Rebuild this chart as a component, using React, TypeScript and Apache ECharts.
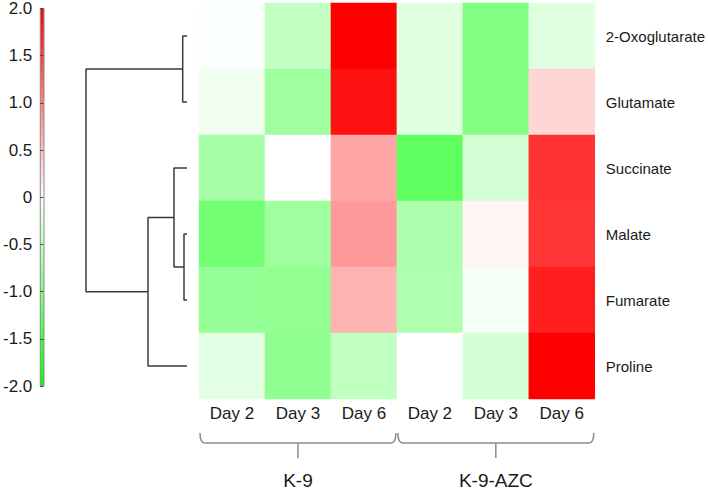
import React, { useEffect, useRef } from "react";
import * as echarts from "echarts";

// ---- data ----
const rows = ["2-Oxoglutarate", "Glutamate", "Succinate", "Malate", "Fumarate", "Proline"];
const columnDays = ["Day 2", "Day 3", "Day 6", "Day 2", "Day 3", "Day 6"];
const columnKeys = ["K9-D2", "K9-D3", "K9-D6", "AZC-D2", "AZC-D3", "AZC-D6"];
const groupNames = ["K-9", "K-9-AZC"];
const groupStart = [0, 3];
const groupEnd = [2, 5];

const oxoglutarate = [-0.03, -0.47, 2.0, -0.24, -1.0, -0.24];
const glutamate = [-0.12, -0.75, 1.87, -0.24, -1.0, 0.32];
const succinate = [-0.7, 0.0, 0.7, -1.25, -0.33, 1.6];
const malate = [-1.1, -0.75, 0.8, -0.64, 0.08, 1.58];
const fumarate = [-0.83, -0.85, 0.6, -0.63, -0.08, 1.76];
const proline = [-0.22, -0.87, -0.5, 0.0, -0.33, 2.0];
const rowValues = [oxoglutarate, glutamate, succinate, malate, fumarate, proline];

// dendrogram: leaves are 0..5 (row order), merges get ids 6..10
const mergePairs = [[0, 1], [3, 4], [2, 7], [8, 5], [6, 9]];
const mergeHeights = [4.3, 3.0, 13, 39, 101];

const FONT = "'Liberation Sans', Arial, sans-serif";
const TEXT = "#1a1a1a";

export default function App() {
  const ref = useRef<HTMLDivElement>(null);

  useEffect(() => {
    if (!ref.current) return;
    const chart = echarts.init(ref.current, undefined, { renderer: "svg" });

    const heatData: number[][] = [];
    rowValues.forEach((vals, r) => vals.forEach((v, c) => heatData.push([c, r, v])));

    // dendrogram node positions
    const nodeY: number[] = rows.map((_, i) => i);
    const nodeH: number[] = rows.map(() => 0);
    const dendroSeries: any[] = [];
    mergePairs.forEach(([a, b], k) => {
      const h = mergeHeights[k];
      const ya = nodeY[a];
      const yb = nodeY[b];
      nodeY.push((ya + yb) / 2);
      nodeH.push(h);
      dendroSeries.push({
        type: "line",
        xAxisIndex: 1,
        yAxisIndex: 1,
        data: [
          [nodeH[a], ya],
          [h, ya],
          [h, yb],
          [nodeH[b], yb],
        ],
        showSymbol: false,
        symbol: "none",
        silent: true,
        lineStyle: { color: "#3a3a3a", width: 1.5 },
      });
    });

    const bracketData = groupNames.map((n, i) => [groupStart[i], groupEnd[i], i]);

    const option: any = {
      animation: false,
      backgroundColor: "#ffffff",
      textStyle: { fontFamily: FONT },
      grid: [
        { left: 199, top: 3, width: 397, height: 396 },
        { left: 86, top: 3, width: 101, height: 396 },
        {
          left: 35,
          top: 6,
          width: 9,
          height: 380,
          show: true,
          borderColor: "#8a8a8a",
          borderWidth: 1,
          backgroundColor: new echarts.graphic.LinearGradient(0, 0, 0, 1, [
            { offset: 0, color: "#ff0000" },
            { offset: 0.5, color: "#ffffff" },
            { offset: 1, color: "#00ff00" },
          ]),
        },
      ],
      xAxis: [
        {
          gridIndex: 0,
          type: "category",
          data: columnKeys,
          position: "bottom",
          axisLine: { show: false },
          axisTick: { show: false },
          splitLine: { show: false },
          axisLabel: {
            margin: 6,
            fontSize: 17,
            color: TEXT,
            fontFamily: FONT,
            formatter: (_v: string, i: number) => columnDays[i],
          },
        },
        { gridIndex: 1, type: "value", min: 0, max: 101, inverse: true, show: false },
        { gridIndex: 2, type: "category", data: [""], show: false },
      ],
      yAxis: [
        {
          gridIndex: 0,
          type: "category",
          data: rows,
          inverse: true,
          position: "right",
          axisLine: { show: false },
          axisTick: { show: false },
          splitLine: { show: false },
          axisLabel: { margin: 11, fontSize: 15, color: TEXT, fontFamily: FONT },
        },
        { gridIndex: 1, type: "value", min: -0.5, max: 5.5, inverse: true, show: false },
        {
          gridIndex: 2,
          type: "value",
          min: -2,
          max: 2,
          interval: 0.5,
          position: "left",
          axisLine: { show: false },
          axisTick: { show: false },
          splitLine: { show: true, lineStyle: { color: "#444", width: 1, type: [3, 3] } },
          axisLabel: {
            margin: 8,
            fontSize: 17,
            color: TEXT,
            fontFamily: FONT,
            formatter: (v: number) => (v === 0 ? "0" : v.toFixed(1)),
          },
        },
      ],
      visualMap: {
        show: false,
        type: "continuous",
        min: -2,
        max: 2,
        seriesIndex: 0,
        dimension: 2,
        inRange: { color: ["#00ff00", "#ffffff", "#ff0000"] },
      },
      series: [
        {
          type: "heatmap",
          xAxisIndex: 0,
          yAxisIndex: 0,
          data: heatData,
          silent: true,
          itemStyle: { borderWidth: 0 },
          emphasis: { disabled: true },
        },
        ...dendroSeries,
        {
          type: "custom",
          xAxisIndex: 0,
          yAxisIndex: 0,
          clip: false,
          silent: true,
          data: bracketData,
          encode: { x: [0, 1] },
          renderItem: (params: any, api: any) => {
            const s = api.value(0);
            const e = api.value(1);
            const gi = api.value(2);
            const bw = api.size([1, 0])[0];
            const x0 = api.coord([s, 0])[0] - bw / 2 + 1;
            const x1 = api.coord([e, 0])[0] + bw / 2 - 1;
            const bottom = params.coordSys.y + params.coordSys.height;
            const y0 = bottom + 34;
            const y1 = bottom + 44;
            const y2 = bottom + 59;
            const xc = (x0 + x1) / 2;
            const r = 5;
            const d =
              `M${x0} ${y0} Q${x0} ${y1} ${x0 + r} ${y1} L${x1 - r} ${y1} Q${x1} ${y1} ${x1} ${y0} ` +
              `M${xc} ${y1} L${xc} ${y2}`;
            return {
              type: "group",
              children: [
                {
                  type: "path",
                  shape: { pathData: d },
                  style: { fill: "none", stroke: "#8c8c8c", lineWidth: 1.5 },
                },
                {
                  type: "text",
                  style: {
                    text: groupNames[gi],
                    x: xc,
                    y: bottom + 81,
                    align: "center",
                    verticalAlign: "middle",
                    fontSize: 19,
                    fontFamily: FONT,
                    fill: TEXT,
                  },
                },
              ],
            };
          },
        },
      ],
    };

    chart.setOption(option);
    return () => chart.dispose();
  }, []);

  return (
    <div
      ref={ref}
      style={{ position: "fixed", left: 0, top: 0, width: 708, height: 491, background: "#fff" }}
    />
  );
}
